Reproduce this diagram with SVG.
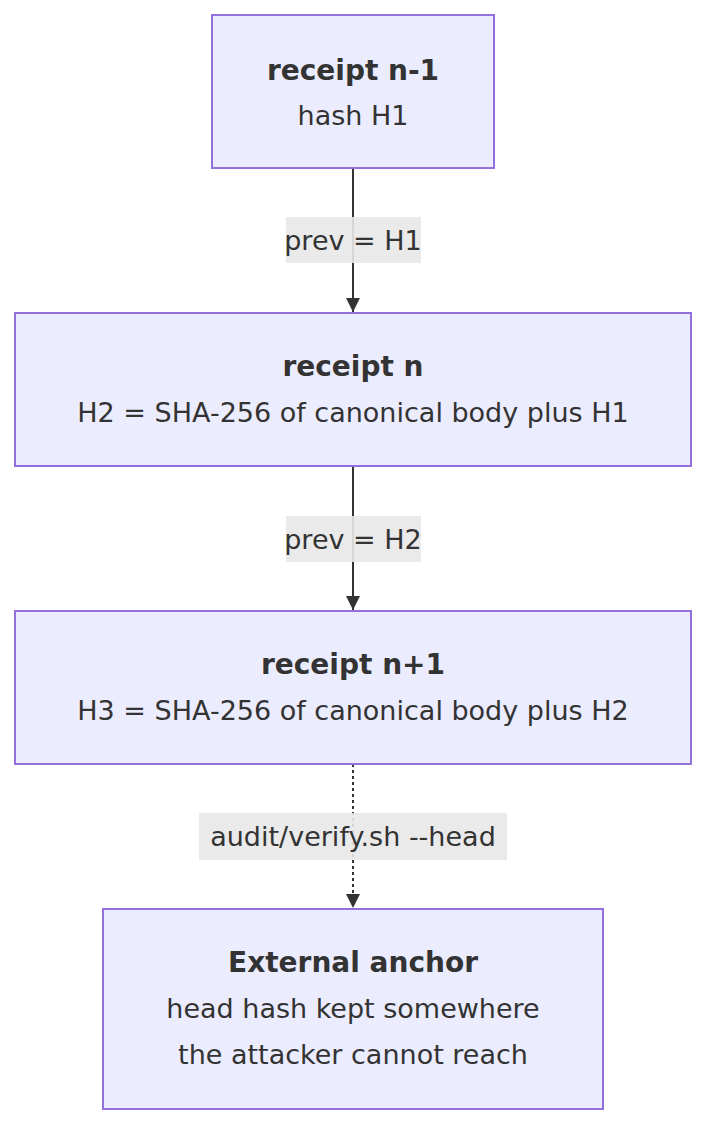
<svg xmlns="http://www.w3.org/2000/svg" width="722" height="1148" viewBox="0 0 722 1148">
<defs>
<style>
.node rect{fill:#ECECFF;stroke:#9370DB;stroke-width:2}
.t{font-family:"DejaVu Sans","Open Sans",sans-serif;font-size:27px;fill:#333;text-anchor:middle}
.b{font-weight:bold;font-size:28px}
.edge{stroke:#333;stroke-width:2;fill:none}
.dot{stroke-dasharray:3 3}
.lbl{fill:#e8e8e8;opacity:0.9}
</style>
<marker id="arr" viewBox="0 0 10 10" refX="10" refY="5" markerWidth="14" markerHeight="14" markerUnits="userSpaceOnUse" orient="auto">
<path d="M0,0 L10,5 L0,10 z" fill="#333"/>
</marker>
</defs>
<rect width="722" height="1148" fill="#ffffff"/>
<g id="connectors">
<path class="edge" d="M353,168 L353,312" marker-end="url(#arr)"/>
<path class="edge" d="M353,466 L353,610" marker-end="url(#arr)"/>
<path class="edge dot" d="M353,764 L353,908" marker-end="url(#arr)"/>
<rect class="lbl" x="286" y="217" width="135" height="46"/>
<text class="t" x="353" y="250">prev = H1</text>
<rect class="lbl" x="286" y="516" width="135" height="46"/>
<text class="t" x="353" y="549">prev = H2</text>
<rect class="lbl" x="199" y="813" width="308" height="47"/>
<text class="t" x="353" y="846">audit/verify.sh --head</text>
</g>
<g id="n1" class="node">
<rect x="212" y="15" width="282" height="153"/>
<text class="t b" x="353" y="80">receipt n-1</text>
<text class="t" x="353" y="125">hash H1</text>
</g>
<g id="n2" class="node">
<rect x="15" y="313" width="676" height="153"/>
<text class="t b" x="353" y="376">receipt n</text>
<text class="t" x="353" y="422">H2 = SHA-256 of canonical body plus H1</text>
</g>
<g id="n3" class="node">
<rect x="15" y="611" width="676" height="153"/>
<text class="t b" x="353" y="674">receipt n+1</text>
<text class="t" x="353" y="720">H3 = SHA-256 of canonical body plus H2</text>
</g>
<g id="n4" class="node">
<rect x="103" y="909" width="500" height="200"/>
<text class="t b" x="353" y="972">External anchor</text>
<text class="t" x="353" y="1018">head hash kept somewhere</text>
<text class="t" x="353" y="1064">the attacker cannot reach</text>
</g>
</svg>
